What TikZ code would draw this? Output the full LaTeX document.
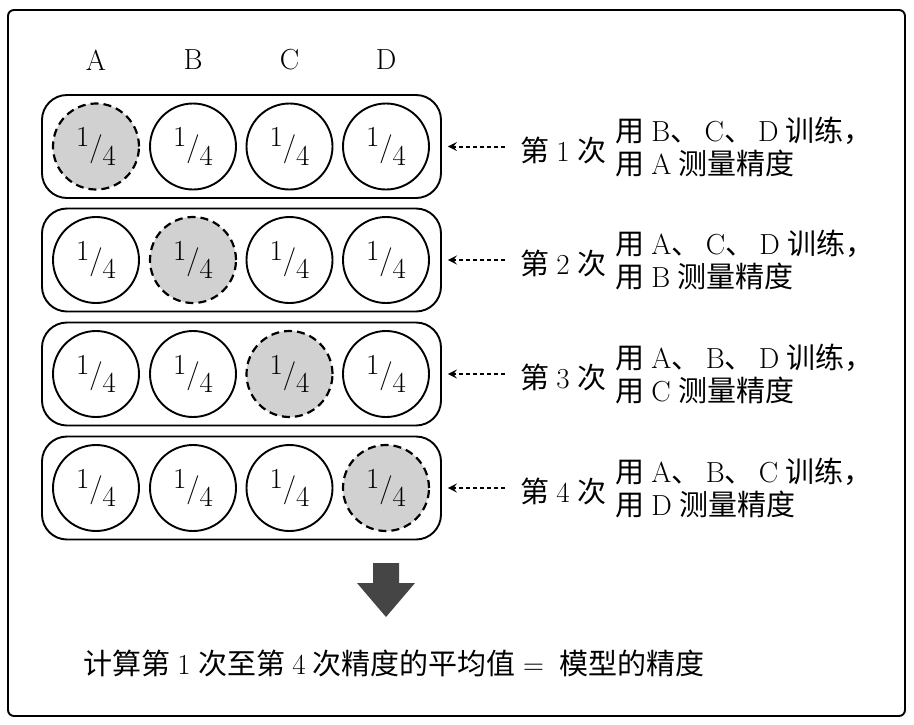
\documentclass[tikz,border=0pt]{standalone}
\usepackage{fontspec}
\newfontfamily\cjk{Noto Sans CJK SC}
\usetikzlibrary{arrows.meta}
\newcommand\zh[1]{{\cjk #1}}
\newcommand\qfrac{{\fontsize{29}{29}\selectfont\raisebox{0.32em}{1}/\raisebox{-0.32em}{4}}}
\newcommand\gp{\hspace{0.25em}}
\newcommand\dun{\zh{、}\hspace{0.18em}}
\tikzset{
  qc/.style={circle, draw, line width=1.9pt, minimum size=86pt, inner sep=0pt},
  shaded/.style={fill=black!18, line width=2.2pt, dash pattern=on 8pt off 5pt},
  rowbox/.style={rectangle, draw, line width=1.9pt, rounded corners=25pt, minimum width=399pt, minimum height=103pt},
  dasharr/.style={line width=2pt, dash pattern=on 4pt off 3pt, -{Stealth[length=9pt,width=9pt,inset=3.5pt]}, shorten >=6pt},
  lbl/.style={anchor=west, inner sep=0pt},
}
\begin{document}
\begin{tikzpicture}[x=1pt,y=-1pt, font=\fontsize{29}{33}\selectfont]
\useasboundingbox (0,0) rectangle (914,724);
\draw[line width=1.9pt, rounded corners=6pt] (8,10) rectangle (905,716);
\foreach \n/\x in {A/96,B/193,C/289.5,D/386}
  \node (h\n) at (\x,60) {\n};
\foreach \i/\y in {1/146.5,2/260,3/374,4/488} {
  \node[rowbox] (r\i) at (241.5,\y) {};
  \foreach \j/\x in {1/96,2/193,3/289.5,4/386} {
    \ifnum\i=\j
      \node[qc,shaded] (c\i\j) at (\x,\y) {\qfrac};
    \else
      \node[qc] (c\i\j) at (\x,\y) {\qfrac};
    \fi
  }
}
% row labels
\node[lbl] (t1) at (520,150) {\zh{第}\gp 1\gp\zh{次}};
\node[lbl] (t2) at (520,263) {\zh{第}\gp 2\gp\zh{次}};
\node[lbl] (t3) at (520,377) {\zh{第}\gp 3\gp\zh{次}};
\node[lbl] (t4) at (520,491) {\zh{第}\gp 4\gp\zh{次}};
\node[lbl, align=left] (d1) at (615,147) {\zh{用}\gp B\dun C\dun D\gp\zh{训练，}\\\zh{用}\gp A\gp\zh{测量精度}};
\node[lbl, align=left] (d2) at (615,260) {\zh{用}\gp A\dun C\dun D\gp\zh{训练，}\\\zh{用}\gp B\gp\zh{测量精度}};
\node[lbl, align=left] (d3) at (615,374) {\zh{用}\gp A\dun B\dun D\gp\zh{训练，}\\\zh{用}\gp C\gp\zh{测量精度}};
\node[lbl, align=left] (d4) at (615,488) {\zh{用}\gp A\dun B\dun C\gp\zh{训练，}\\\zh{用}\gp D\gp\zh{测量精度}};
\foreach \i in {1,2,3,4}
  \draw[dasharr] ([xshift=-15pt]t\i.west |- r\i.east) -- (r\i.east);
% big arrow
\fill[black!73] (373,563) -- (399,563) -- (399,583) -- (415,583) -- (386,617) -- (357,583) -- (373,583) -- cycle;
\node[lbl] (res) at (83,663) {\zh{计算第}\gp 1\gp\zh{次至第}\gp 4\gp\zh{次精度的平均值}\gp = \gp\zh{模型的精度}};
\end{tikzpicture}
\end{document}
